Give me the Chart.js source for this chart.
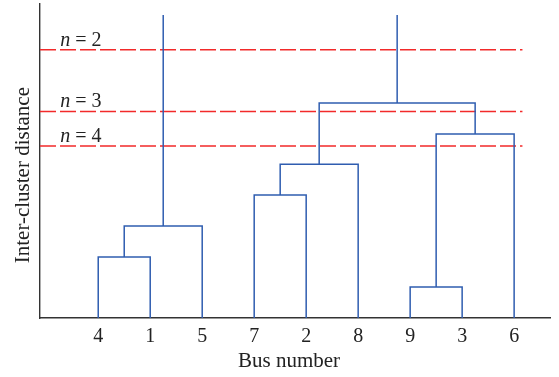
<!DOCTYPE html>
<html>
<head>
<meta charset="utf-8">
<script src="https://cdn.jsdelivr.net/npm/chart.js@4"></script>
<style>
  body { margin: 0; background: #fff; }
</style>
</head>
<body>
<canvas id="dendro" width="559" height="377"></canvas>
<script>
// leaves in the order they appear along the axis
const leafLabels = ['4', '1', '5', '7', '2', '8', '9', '3', '6'];
// merges, linkage style: [left cluster, right cluster, distance]
// leaves are 0..8, each merge makes a new cluster 9, 10, ...
const mergeLeft = [0, 9, 3, 11, 6, 13, 12];
const mergeRight = [1, 2, 4, 5, 7, 8, 14];
const mergeHeight = [1.94, 2.93, 3.92, 4.90, 0.99, 5.86, 6.85];
// top clusters drawn with a stem up to this distance
const rootClusters = [10, 15];
const stemTop = 9.65;
// cut levels
const cutLabels = ['2', '3', '4'];
const cutHeight = [8.54, 6.58, 5.48];

const blue = '#2f5db0';
const red = '#f22a2a';
const axisColor = '#333';
const serif = 'Liberation Serif';

// where each cluster sits: x position and height
let posX = leafLabels.map((l, i) => i + 1);
let posY = leafLabels.map(() => 0);
let datasets = [];
for (let m = 0; m < mergeHeight.length; m++) {
    let a = mergeLeft[m], b = mergeRight[m], h = mergeHeight[m];
    datasets.push({
        data: [{x: posX[a], y: posY[a]}, {x: posX[a], y: h}, {x: posX[b], y: h}, {x: posX[b], y: posY[b]}],
        borderColor: blue, borderWidth: 1.5
    });
    posX.push((posX[a] + posX[b]) / 2);
    posY.push(h);
}
rootClusters.forEach(c => {
    datasets.push({
        data: [{x: posX[c], y: posY[c]}, {x: posX[c], y: stemTop}],
        borderColor: blue, borderWidth: 1.5
    });
});
cutHeight.forEach(h => {
    datasets.push({
        data: [{x: -0.12, y: h}, {x: 9.16, y: h}],
        borderColor: red, borderWidth: 1.5, borderDash: [16, 4]
    });
});
datasets.forEach(d => { d.showLine = true; d.pointRadius = 0; d.fill = false; d.tension = 0; });

// "n = k" text above each cut line, and the two axis titles
const extraText = {
    id: 'extraText',
    afterDatasetsDraw(chart) {
        const ctx = chart.ctx;
        const xs = chart.scales.x, ys = chart.scales.y;
        ctx.save();
        ctx.fillStyle = '#222';
        ctx.textBaseline = 'alphabetic';
        cutHeight.forEach((h, i) => {
            let x = xs.getPixelForValue(0.27);
            let y = ys.getPixelForValue(h) - 4;
            ctx.font = 'italic 20px "' + serif + '"';
            ctx.fillText('n', x, y);
            x += ctx.measureText('n').width;
            ctx.font = '20px "' + serif + '"';
            ctx.fillText(' = ' + cutLabels[i], x, y);
        });
        ctx.font = '21px "' + serif + '"';
        ctx.textAlign = 'center';
        ctx.fillText('Bus number', xs.getPixelForValue(4.67), 367);
        ctx.translate(29, ys.getPixelForValue(4.55));
        ctx.rotate(-Math.PI / 2);
        ctx.fillText('Inter-cluster distance', 0, 0);
        ctx.restore();
    }
};

new Chart(document.getElementById('dendro'), {
    type: 'scatter',
    data: {datasets: datasets},
    plugins: [extraText],
    options: {
        responsive: false,
        animation: false,
        events: [],
        layout: {padding: {top: 4, right: 9, left: 0, bottom: 0}},
        plugins: {legend: {display: false}, tooltip: {enabled: false}},
        scales: {
            x: {
                type: 'linear', min: -0.12, max: 9.69,
                grid: {display: false, drawTicks: false},
                border: {display: true, color: axisColor, width: 1.4},
                afterBuildTicks: s => { s.ticks = leafLabels.map((l, i) => ({value: i + 1})); },
                afterFit: s => { s.height = 59; },
                ticks: {
                    autoSkip: false, maxRotation: 0, padding: 7, color: '#222',
                    font: {family: serif, size: 20},
                    callback: (v, i) => leafLabels[i]
                }
            },
            y: {
                type: 'linear', min: 0, max: 10,
                grid: {display: false, drawTicks: false},
                border: {display: true, color: axisColor, width: 1.4},
                ticks: {display: false},
                afterFit: s => { s.width = 40; }
            }
        }
    }
});
</script>
</body>
</html>
